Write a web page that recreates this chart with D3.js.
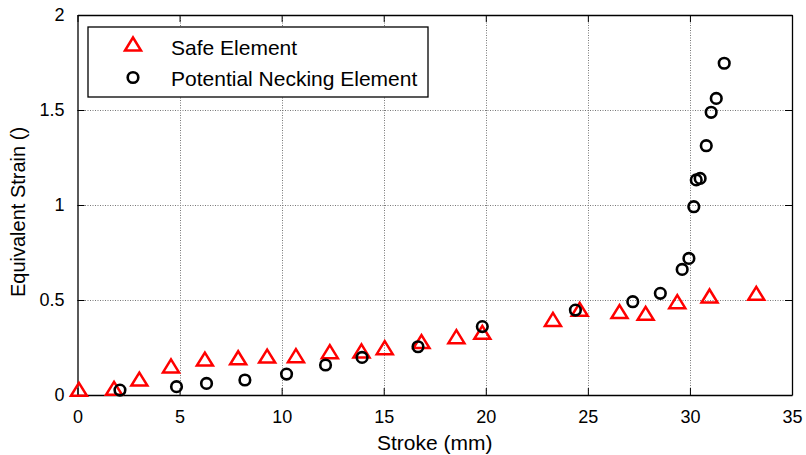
<!DOCTYPE html>
<html>
<head>
<meta charset="utf-8">
<script src="https://cdn.jsdelivr.net/npm/d3@7"></script>
<style>
    body { margin: 0; background: #fff; }
    text { font-family: Arial, "Liberation Sans", sans-serif; fill: #000; }
</style>
</head>
<body>
<script>
//values
let safeStroke = [0.07, 1.79, 3.03, 4.58, 6.24, 7.87, 9.29, 10.7, 12.36, 13.91, 15.05,
    16.85, 18.56, 19.83, 23.29, 24.6, 26.55, 27.83, 29.38, 30.96, 33.25];
let safeStrain = [0.03, 0.035, 0.084, 0.153, 0.189, 0.196, 0.205, 0.207, 0.228, 0.232, 0.249,
    0.281, 0.307, 0.33, 0.398, 0.451, 0.439, 0.43, 0.491, 0.521, 0.535];

let neckStroke = [2.08, 4.85, 6.32, 8.2, 10.24, 12.15, 13.94, 16.68, 19.83, 24.39, 27.2, 28.55,
    29.62, 29.95, 30.19, 30.31, 30.5, 30.8, 31.04, 31.29, 31.68];
let neckStrain = [0.026, 0.044, 0.061, 0.079, 0.11, 0.158, 0.198, 0.254, 0.36, 0.447, 0.491, 0.535,
    0.661, 0.719, 0.991, 1.132, 1.14, 1.312, 1.488, 1.561, 1.746];

let xTicks = [0, 5, 10, 15, 20, 25, 30, 35];
let yTicks = [0, 0.5, 1, 1.5, 2];
let legendLabels = ["Safe Element", "Potential Necking Element"];

window.onload = drawChart();

function drawChart() {
    let width = 806,
        height = 455;

    let svg = d3.select("body")
        .append("svg")
        .attr("width", width)
        .attr("height", height);

    //plot frame
    let left = 77.5, right = 792, top = 15, bottom = 395;

    let x = d3.scaleLinear().domain([0, 35]).range([left, right]);
    let y = d3.scaleLinear().domain([0, 2]).range([bottom, top]);

    //dotted grid
    svg.append("g")
        .selectAll("line")
        .data(xTicks.slice(1, -1))
        .enter()
        .append("line")
        .attr("x1", d => Math.round(x(d)) + 0.5)
        .attr("x2", d => Math.round(x(d)) + 0.5)
        .attr("y1", top)
        .attr("y2", bottom)
        .attr("stroke", "#777")
        .attr("stroke-dasharray", "1,1.5");

    svg.append("g")
        .selectAll("line")
        .data(yTicks.slice(1, -1))
        .enter()
        .append("line")
        .attr("x1", left)
        .attr("x2", right)
        .attr("y1", d => Math.round(y(d)) + 0.5)
        .attr("y2", d => Math.round(y(d)) + 0.5)
        .attr("stroke", "#777")
        .attr("stroke-dasharray", "1,1.5");

    //axes with inward ticks
    let tickLen = 7;
    svg.append("g")
        .attr("transform", "translate(0," + bottom + ")")
        .call(d3.axisBottom(x).tickValues(xTicks).tickSizeInner(-tickLen).tickSizeOuter(0).tickPadding(tickLen + 8));
    svg.append("g")
        .attr("transform", "translate(0," + top + ")")
        .call(d3.axisTop(x).tickValues(xTicks).tickSizeInner(-tickLen).tickSizeOuter(0).tickFormat(""));
    svg.append("g")
        .attr("transform", "translate(" + left + ",0)")
        .call(d3.axisLeft(y).tickValues(yTicks).tickSizeInner(-tickLen).tickSizeOuter(0).tickPadding(tickLen + 6).tickFormat(d3.format("")));
    svg.append("g")
        .attr("transform", "translate(" + right + ",0)")
        .call(d3.axisRight(y).tickValues(yTicks).tickSizeInner(-tickLen).tickSizeOuter(0).tickFormat(""));

    svg.selectAll(".tick text")
        .style("font-size", "18px")
        .style("font-family", "Arial, 'Liberation Sans', sans-serif");
    svg.selectAll(".domain").attr("stroke", "#000").attr("stroke-width", 1.3);
    svg.selectAll(".tick line").attr("stroke", "#000");

    //axis labels
    svg.append("text")
        .attr("x", (left + right) / 2)
        .attr("y", 450)
        .attr("text-anchor", "middle")
        .style("font-size", "21px")
        .text("Stroke (mm)");

    svg.append("text")
        .attr("transform", "translate(25,212) rotate(-90)")
        .attr("text-anchor", "middle")
        .style("font-size", "20px")
        .text("Equivalent Strain ()");

    let tri = "M0,-6.5L8,6.5L-8,6.5Z";

    //safe element triangles
    svg.append("g")
        .selectAll("path")
        .data(d3.range(safeStroke.length))
        .enter()
        .append("path")
        .attr("d", tri)
        .attr("transform", i => "translate(" + x(safeStroke[i]) + "," + y(safeStrain[i]) + ")")
        .attr("fill", "none")
        .attr("stroke", "#ff0000")
        .attr("stroke-width", 2.5);

    //potential necking circles
    svg.append("g")
        .selectAll("circle")
        .data(d3.range(neckStroke.length))
        .enter()
        .append("circle")
        .attr("cx", i => x(neckStroke[i]))
        .attr("cy", i => y(neckStrain[i]))
        .attr("r", 5.3)
        .attr("fill", "none")
        .attr("stroke", "#000")
        .attr("stroke-width", 2.6);

    //legend
    let legend = svg.append("g");
    legend.append("rect")
        .attr("x", 88)
        .attr("y", 27)
        .attr("width", 340)
        .attr("height", 70)
        .attr("fill", "#fff")
        .attr("stroke", "#000")
        .attr("stroke-width", 1.3);

    legend.append("path")
        .attr("d", tri)
        .attr("transform", "translate(133,44)")
        .attr("fill", "none")
        .attr("stroke", "#ff0000")
        .attr("stroke-width", 2.5);
    legend.append("circle")
        .attr("cx", 133)
        .attr("cy", 77.5)
        .attr("r", 5.3)
        .attr("fill", "none")
        .attr("stroke", "#000")
        .attr("stroke-width", 2.6);

    legend.selectAll(".lab")
        .data(legendLabels)
        .enter()
        .append("text")
        .attr("class", "lab")
        .attr("x", 171)
        .attr("y", (d, i) => 55 + i * 31)
        .style("font-size", "21px")
        .text(d => d);
}
</script>
</body>
</html>
